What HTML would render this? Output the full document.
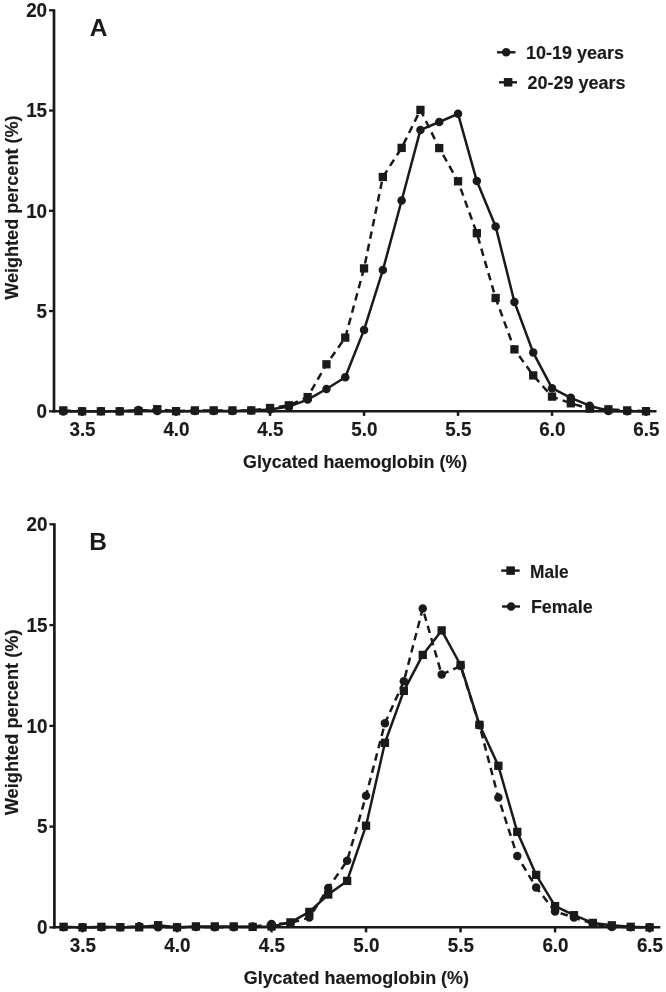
<!DOCTYPE html>
<html lang="en">
<head>
<meta charset="utf-8">
<title>Glycated haemoglobin distribution</title>
<style>
html,body{margin:0;padding:0;background:#fff;}
body{width:666px;height:992px;overflow:hidden;}
svg{display:block;}
svg text{font-family:"Liberation Sans",sans-serif;font-weight:bold;font-size:17.7px;fill:#1a1a1a;stroke:#1a1a1a;stroke-width:0.15px;stroke-linejoin:round;}
</style>
</head>
<body>
<svg width="666" height="992" viewBox="0 0 666 992">
<rect x="0" y="0" width="666" height="992" fill="#ffffff"/>
<line x1="54.0" y1="9.15" x2="54.0" y2="412.45" stroke="#1a1a1a" stroke-width="2.7"/>
<line x1="52.65" y1="411.2" x2="656.5" y2="411.2" stroke="#1a1a1a" stroke-width="2.5"/>
<line x1="49" y1="10.3" x2="54.0" y2="10.3" stroke="#1a1a1a" stroke-width="2.3"/>
<text transform="translate(47.1 17.1) scale(0.962 1)" text-anchor="end" style="font-size:19.6px">20</text>
<line x1="49" y1="110.55" x2="54.0" y2="110.55" stroke="#1a1a1a" stroke-width="2.3"/>
<text transform="translate(47.1 117.35) scale(0.962 1)" text-anchor="end" style="font-size:19.6px">15</text>
<line x1="49" y1="210.8" x2="54.0" y2="210.8" stroke="#1a1a1a" stroke-width="2.3"/>
<text transform="translate(47.1 217.6) scale(0.962 1)" text-anchor="end" style="font-size:19.6px">10</text>
<line x1="49" y1="311.05" x2="54.0" y2="311.05" stroke="#1a1a1a" stroke-width="2.3"/>
<text transform="translate(47.1 317.85) scale(0.962 1)" text-anchor="end" style="font-size:19.6px">5</text>
<line x1="49" y1="411.3" x2="54.0" y2="411.3" stroke="#1a1a1a" stroke-width="2.3"/>
<text transform="translate(47.1 418.1) scale(0.962 1)" text-anchor="end" style="font-size:19.6px">0</text>
<line x1="82.1" y1="411.2" x2="82.1" y2="415.9" stroke="#1a1a1a" stroke-width="2.5"/>
<text transform="translate(82.5 435.8) scale(0.962 1)" text-anchor="middle" style="font-size:19.6px">3.5</text>
<line x1="176.08" y1="411.2" x2="176.08" y2="415.9" stroke="#1a1a1a" stroke-width="2.5"/>
<text transform="translate(176.48 435.8) scale(0.962 1)" text-anchor="middle" style="font-size:19.6px">4.0</text>
<line x1="270.07" y1="411.2" x2="270.07" y2="415.9" stroke="#1a1a1a" stroke-width="2.5"/>
<text transform="translate(270.47 435.8) scale(0.962 1)" text-anchor="middle" style="font-size:19.6px">4.5</text>
<line x1="364.05" y1="411.2" x2="364.05" y2="415.9" stroke="#1a1a1a" stroke-width="2.5"/>
<text transform="translate(364.45 435.8) scale(0.962 1)" text-anchor="middle" style="font-size:19.6px">5.0</text>
<line x1="458.04" y1="411.2" x2="458.04" y2="415.9" stroke="#1a1a1a" stroke-width="2.5"/>
<text transform="translate(458.44 435.8) scale(0.962 1)" text-anchor="middle" style="font-size:19.6px">5.5</text>
<line x1="552.02" y1="411.2" x2="552.02" y2="415.9" stroke="#1a1a1a" stroke-width="2.5"/>
<text transform="translate(552.42 435.8) scale(0.962 1)" text-anchor="middle" style="font-size:19.6px">6.0</text>
<line x1="646.01" y1="411.2" x2="646.01" y2="415.9" stroke="#1a1a1a" stroke-width="2.5"/>
<text transform="translate(646.41 435.8) scale(0.962 1)" text-anchor="middle" style="font-size:19.6px">6.5</text>
<path d="M63.3 411.4 L82.1 411.3 L100.89 411.3 L119.69 411.3 L138.49 410.1 L157.28 411 L176.08 411.2 L194.88 411 L213.68 411 L232.47 411 L251.27 410.6 L270.07 409.6 L288.86 406.6 L307.66 399.6 L326.46 389 L345.25 377.2 L364.05 329.9 L382.85 270.1 L401.65 200.5 L420.44 129.9 L439.24 122 L458.04 113.8 L476.83 181.1 L495.63 226.4 L514.43 302 L533.23 352.6 L552.02 388.2 L570.82 397.8 L589.62 405.7 L608.41 411 L627.21 411.2 L646.01 411.2" fill="none" stroke="#1a1a1a" stroke-width="2.5" stroke-linejoin="round"/>
<circle cx="63.3" cy="411.4" r="4.25" fill="#1a1a1a"/>
<circle cx="82.1" cy="411.3" r="4.25" fill="#1a1a1a"/>
<circle cx="100.89" cy="411.3" r="4.25" fill="#1a1a1a"/>
<circle cx="119.69" cy="411.3" r="4.25" fill="#1a1a1a"/>
<circle cx="138.49" cy="410.1" r="4.25" fill="#1a1a1a"/>
<circle cx="157.28" cy="411" r="4.25" fill="#1a1a1a"/>
<circle cx="176.08" cy="411.2" r="4.25" fill="#1a1a1a"/>
<circle cx="194.88" cy="411" r="4.25" fill="#1a1a1a"/>
<circle cx="213.68" cy="411" r="4.25" fill="#1a1a1a"/>
<circle cx="232.47" cy="411" r="4.25" fill="#1a1a1a"/>
<circle cx="251.27" cy="410.6" r="4.25" fill="#1a1a1a"/>
<circle cx="270.07" cy="409.6" r="4.25" fill="#1a1a1a"/>
<circle cx="288.86" cy="406.6" r="4.25" fill="#1a1a1a"/>
<circle cx="307.66" cy="399.6" r="4.25" fill="#1a1a1a"/>
<circle cx="326.46" cy="389" r="4.25" fill="#1a1a1a"/>
<circle cx="345.25" cy="377.2" r="4.25" fill="#1a1a1a"/>
<circle cx="364.05" cy="329.9" r="4.25" fill="#1a1a1a"/>
<circle cx="382.85" cy="270.1" r="4.25" fill="#1a1a1a"/>
<circle cx="401.65" cy="200.5" r="4.25" fill="#1a1a1a"/>
<circle cx="420.44" cy="129.9" r="4.25" fill="#1a1a1a"/>
<circle cx="439.24" cy="122" r="4.25" fill="#1a1a1a"/>
<circle cx="458.04" cy="113.8" r="4.25" fill="#1a1a1a"/>
<circle cx="476.83" cy="181.1" r="4.25" fill="#1a1a1a"/>
<circle cx="495.63" cy="226.4" r="4.25" fill="#1a1a1a"/>
<circle cx="514.43" cy="302" r="4.25" fill="#1a1a1a"/>
<circle cx="533.23" cy="352.6" r="4.25" fill="#1a1a1a"/>
<circle cx="552.02" cy="388.2" r="4.25" fill="#1a1a1a"/>
<circle cx="570.82" cy="397.8" r="4.25" fill="#1a1a1a"/>
<circle cx="589.62" cy="405.7" r="4.25" fill="#1a1a1a"/>
<circle cx="608.41" cy="411" r="4.25" fill="#1a1a1a"/>
<circle cx="627.21" cy="411.2" r="4.25" fill="#1a1a1a"/>
<circle cx="646.01" cy="411.2" r="4.25" fill="#1a1a1a"/>
<path d="M63.3 410.4 L82.1 411.3 L100.89 411.3 L119.69 411.3 L138.49 411.1 L157.28 409.2 L176.08 411.2 L194.88 410.4 L213.68 410.4 L232.47 410.4 L251.27 410.4 L270.07 408 L288.86 405.3 L307.66 397.1 L326.46 364.3 L345.25 337.6 L364.05 268.4 L382.85 177 L401.65 147.9 L420.44 109.9 L439.24 148.1 L458.04 181.3 L476.83 233.2 L495.63 298 L514.43 349.4 L533.23 375.4 L552.02 396.6 L570.82 403.3 L589.62 408.6 L608.41 409.3 L627.21 410.4 L646.01 411.2" fill="none" stroke="#1a1a1a" stroke-width="2.5" stroke-linejoin="round" stroke-dasharray="7.5 5.2"/>
<rect x="59.15" y="406.25" width="8.3" height="8.3" fill="#1a1a1a"/>
<rect x="77.95" y="407.15" width="8.3" height="8.3" fill="#1a1a1a"/>
<rect x="96.74" y="407.15" width="8.3" height="8.3" fill="#1a1a1a"/>
<rect x="115.54" y="407.15" width="8.3" height="8.3" fill="#1a1a1a"/>
<rect x="134.34" y="406.95" width="8.3" height="8.3" fill="#1a1a1a"/>
<rect x="153.13" y="405.05" width="8.3" height="8.3" fill="#1a1a1a"/>
<rect x="171.93" y="407.05" width="8.3" height="8.3" fill="#1a1a1a"/>
<rect x="190.73" y="406.25" width="8.3" height="8.3" fill="#1a1a1a"/>
<rect x="209.53" y="406.25" width="8.3" height="8.3" fill="#1a1a1a"/>
<rect x="228.32" y="406.25" width="8.3" height="8.3" fill="#1a1a1a"/>
<rect x="247.12" y="406.25" width="8.3" height="8.3" fill="#1a1a1a"/>
<rect x="265.92" y="403.85" width="8.3" height="8.3" fill="#1a1a1a"/>
<rect x="284.71" y="401.15" width="8.3" height="8.3" fill="#1a1a1a"/>
<rect x="303.51" y="392.95" width="8.3" height="8.3" fill="#1a1a1a"/>
<rect x="322.31" y="360.15" width="8.3" height="8.3" fill="#1a1a1a"/>
<rect x="341.11" y="333.45" width="8.3" height="8.3" fill="#1a1a1a"/>
<rect x="359.9" y="264.25" width="8.3" height="8.3" fill="#1a1a1a"/>
<rect x="378.7" y="172.85" width="8.3" height="8.3" fill="#1a1a1a"/>
<rect x="397.5" y="143.75" width="8.3" height="8.3" fill="#1a1a1a"/>
<rect x="416.29" y="105.75" width="8.3" height="8.3" fill="#1a1a1a"/>
<rect x="435.09" y="143.95" width="8.3" height="8.3" fill="#1a1a1a"/>
<rect x="453.89" y="177.15" width="8.3" height="8.3" fill="#1a1a1a"/>
<rect x="472.68" y="229.05" width="8.3" height="8.3" fill="#1a1a1a"/>
<rect x="491.48" y="293.85" width="8.3" height="8.3" fill="#1a1a1a"/>
<rect x="510.28" y="345.25" width="8.3" height="8.3" fill="#1a1a1a"/>
<rect x="529.08" y="371.25" width="8.3" height="8.3" fill="#1a1a1a"/>
<rect x="547.87" y="392.45" width="8.3" height="8.3" fill="#1a1a1a"/>
<rect x="566.67" y="399.15" width="8.3" height="8.3" fill="#1a1a1a"/>
<rect x="585.47" y="404.45" width="8.3" height="8.3" fill="#1a1a1a"/>
<rect x="604.26" y="405.15" width="8.3" height="8.3" fill="#1a1a1a"/>
<rect x="623.06" y="406.25" width="8.3" height="8.3" fill="#1a1a1a"/>
<rect x="641.86" y="407.05" width="8.3" height="8.3" fill="#1a1a1a"/>
<line x1="497" y1="52.3" x2="515.5" y2="52.3" stroke="#1a1a1a" stroke-width="2.4"/>
<circle cx="506.2" cy="52.3" r="4.25" fill="#1a1a1a"/>
<text x="526" y="59" textLength="98" lengthAdjust="spacingAndGlyphs">10-19 years</text>
<line x1="499" y1="82.3" x2="517" y2="82.3" stroke="#1a1a1a" stroke-width="2.4"/>
<rect x="503.85" y="78.05" width="8.5" height="8.5" fill="#1a1a1a"/>
<text x="527.4" y="89.1" textLength="98.2" lengthAdjust="spacingAndGlyphs">20-29 years</text>
<text x="89.8" y="36.3" style="font-size:24.5px;stroke-width:0">A</text>
<text transform="translate(17.7 207.6) rotate(-90)" text-anchor="middle" style="font-size:18px" textLength="184.3" lengthAdjust="spacingAndGlyphs">Weighted percent (%)</text>
<text x="243.0" y="468.1" style="font-size:18px" textLength="224.2" lengthAdjust="spacingAndGlyphs">Glycated haemoglobin (%)</text>
<line x1="54.4" y1="523.15" x2="54.4" y2="928.55" stroke="#1a1a1a" stroke-width="2.7"/>
<line x1="53.05" y1="927.3" x2="660.3" y2="927.3" stroke="#1a1a1a" stroke-width="2.5"/>
<line x1="49.4" y1="524.3" x2="54.4" y2="524.3" stroke="#1a1a1a" stroke-width="2.3"/>
<text transform="translate(47.5 531.1) scale(0.962 1)" text-anchor="end" style="font-size:19.6px">20</text>
<line x1="49.4" y1="625.08" x2="54.4" y2="625.08" stroke="#1a1a1a" stroke-width="2.3"/>
<text transform="translate(47.5 631.88) scale(0.962 1)" text-anchor="end" style="font-size:19.6px">15</text>
<line x1="49.4" y1="725.85" x2="54.4" y2="725.85" stroke="#1a1a1a" stroke-width="2.3"/>
<text transform="translate(47.5 732.65) scale(0.962 1)" text-anchor="end" style="font-size:19.6px">10</text>
<line x1="49.4" y1="826.62" x2="54.4" y2="826.62" stroke="#1a1a1a" stroke-width="2.3"/>
<text transform="translate(47.5 833.42) scale(0.962 1)" text-anchor="end" style="font-size:19.6px">5</text>
<line x1="49.4" y1="927.4" x2="54.4" y2="927.4" stroke="#1a1a1a" stroke-width="2.3"/>
<text transform="translate(47.5 934.2) scale(0.962 1)" text-anchor="end" style="font-size:19.6px">0</text>
<line x1="82.5" y1="927.3" x2="82.5" y2="932.4" stroke="#1a1a1a" stroke-width="2.5"/>
<text transform="translate(82.9 951.9) scale(0.962 1)" text-anchor="middle" style="font-size:19.6px">3.5</text>
<line x1="177.02" y1="927.3" x2="177.02" y2="932.4" stroke="#1a1a1a" stroke-width="2.5"/>
<text transform="translate(177.42 951.9) scale(0.962 1)" text-anchor="middle" style="font-size:19.6px">4.0</text>
<line x1="271.53" y1="927.3" x2="271.53" y2="932.4" stroke="#1a1a1a" stroke-width="2.5"/>
<text transform="translate(271.93 951.9) scale(0.962 1)" text-anchor="middle" style="font-size:19.6px">4.5</text>
<line x1="366.05" y1="927.3" x2="366.05" y2="932.4" stroke="#1a1a1a" stroke-width="2.5"/>
<text transform="translate(366.45 951.9) scale(0.962 1)" text-anchor="middle" style="font-size:19.6px">5.0</text>
<line x1="460.56" y1="927.3" x2="460.56" y2="932.4" stroke="#1a1a1a" stroke-width="2.5"/>
<text transform="translate(460.96 951.9) scale(0.962 1)" text-anchor="middle" style="font-size:19.6px">5.5</text>
<line x1="555.08" y1="927.3" x2="555.08" y2="932.4" stroke="#1a1a1a" stroke-width="2.5"/>
<text transform="translate(555.48 951.9) scale(0.962 1)" text-anchor="middle" style="font-size:19.6px">6.0</text>
<line x1="649.59" y1="927.3" x2="649.59" y2="932.4" stroke="#1a1a1a" stroke-width="2.5"/>
<text transform="translate(649.99 951.9) scale(0.962 1)" text-anchor="middle" style="font-size:19.6px">6.5</text>
<path d="M63.6 926.8 L82.5 927.4 L101.41 926.8 L120.31 927.2 L139.21 927.3 L158.11 925.2 L177.02 927.3 L195.92 926.4 L214.82 926.4 L233.73 926.4 L252.63 926.9 L271.53 926.5 L290.44 922.4 L309.34 911.9 L328.24 894.5 L347.14 880.9 L366.05 825.7 L384.95 742.8 L403.85 690.9 L422.76 654.9 L441.66 630.4 L460.56 665 L479.47 724.8 L498.37 765.8 L517.27 831.9 L536.17 874.9 L555.08 906.1 L573.98 915.2 L592.88 922.9 L611.79 925.3 L630.69 926.8 L649.59 927.4" fill="none" stroke="#1a1a1a" stroke-width="2.5" stroke-linejoin="round"/>
<rect x="59.45" y="922.65" width="8.3" height="8.3" fill="#1a1a1a"/>
<rect x="78.35" y="923.25" width="8.3" height="8.3" fill="#1a1a1a"/>
<rect x="97.26" y="922.65" width="8.3" height="8.3" fill="#1a1a1a"/>
<rect x="116.16" y="923.05" width="8.3" height="8.3" fill="#1a1a1a"/>
<rect x="135.06" y="923.15" width="8.3" height="8.3" fill="#1a1a1a"/>
<rect x="153.96" y="921.05" width="8.3" height="8.3" fill="#1a1a1a"/>
<rect x="172.87" y="923.15" width="8.3" height="8.3" fill="#1a1a1a"/>
<rect x="191.77" y="922.25" width="8.3" height="8.3" fill="#1a1a1a"/>
<rect x="210.67" y="922.25" width="8.3" height="8.3" fill="#1a1a1a"/>
<rect x="229.58" y="922.25" width="8.3" height="8.3" fill="#1a1a1a"/>
<rect x="248.48" y="922.75" width="8.3" height="8.3" fill="#1a1a1a"/>
<rect x="267.38" y="922.35" width="8.3" height="8.3" fill="#1a1a1a"/>
<rect x="286.29" y="918.25" width="8.3" height="8.3" fill="#1a1a1a"/>
<rect x="305.19" y="907.75" width="8.3" height="8.3" fill="#1a1a1a"/>
<rect x="324.09" y="890.35" width="8.3" height="8.3" fill="#1a1a1a"/>
<rect x="343" y="876.75" width="8.3" height="8.3" fill="#1a1a1a"/>
<rect x="361.9" y="821.55" width="8.3" height="8.3" fill="#1a1a1a"/>
<rect x="380.8" y="738.65" width="8.3" height="8.3" fill="#1a1a1a"/>
<rect x="399.7" y="686.75" width="8.3" height="8.3" fill="#1a1a1a"/>
<rect x="418.61" y="650.75" width="8.3" height="8.3" fill="#1a1a1a"/>
<rect x="437.51" y="626.25" width="8.3" height="8.3" fill="#1a1a1a"/>
<rect x="456.41" y="660.85" width="8.3" height="8.3" fill="#1a1a1a"/>
<rect x="475.32" y="720.65" width="8.3" height="8.3" fill="#1a1a1a"/>
<rect x="494.22" y="761.65" width="8.3" height="8.3" fill="#1a1a1a"/>
<rect x="513.12" y="827.75" width="8.3" height="8.3" fill="#1a1a1a"/>
<rect x="532.02" y="870.75" width="8.3" height="8.3" fill="#1a1a1a"/>
<rect x="550.93" y="901.95" width="8.3" height="8.3" fill="#1a1a1a"/>
<rect x="569.83" y="911.05" width="8.3" height="8.3" fill="#1a1a1a"/>
<rect x="588.73" y="918.75" width="8.3" height="8.3" fill="#1a1a1a"/>
<rect x="607.64" y="921.15" width="8.3" height="8.3" fill="#1a1a1a"/>
<rect x="626.54" y="922.65" width="8.3" height="8.3" fill="#1a1a1a"/>
<rect x="645.44" y="923.25" width="8.3" height="8.3" fill="#1a1a1a"/>
<path d="M63.6 927.2 L82.5 927.3 L101.41 927.3 L120.31 927.3 L139.21 926.2 L158.11 927.2 L177.02 927.3 L195.92 927 L214.82 927.2 L233.73 927.2 L252.63 926.6 L271.53 924.1 L290.44 923 L309.34 917.6 L328.24 888 L347.14 860.8 L366.05 795.7 L384.95 723.3 L403.85 681.3 L422.76 608.5 L441.66 674.6 L460.56 666 L479.47 725.3 L498.37 797.5 L517.27 856.1 L536.17 887.4 L555.08 911.4 L573.98 917.6 L592.88 923.6 L611.79 927 L630.69 927.2 L649.59 927.3" fill="none" stroke="#1a1a1a" stroke-width="2.5" stroke-linejoin="round" stroke-dasharray="7.5 5.2"/>
<circle cx="63.6" cy="927.2" r="4.25" fill="#1a1a1a"/>
<circle cx="82.5" cy="927.3" r="4.25" fill="#1a1a1a"/>
<circle cx="101.41" cy="927.3" r="4.25" fill="#1a1a1a"/>
<circle cx="120.31" cy="927.3" r="4.25" fill="#1a1a1a"/>
<circle cx="139.21" cy="926.2" r="4.25" fill="#1a1a1a"/>
<circle cx="158.11" cy="927.2" r="4.25" fill="#1a1a1a"/>
<circle cx="177.02" cy="927.3" r="4.25" fill="#1a1a1a"/>
<circle cx="195.92" cy="927" r="4.25" fill="#1a1a1a"/>
<circle cx="214.82" cy="927.2" r="4.25" fill="#1a1a1a"/>
<circle cx="233.73" cy="927.2" r="4.25" fill="#1a1a1a"/>
<circle cx="252.63" cy="926.6" r="4.25" fill="#1a1a1a"/>
<circle cx="271.53" cy="924.1" r="4.25" fill="#1a1a1a"/>
<circle cx="290.44" cy="923" r="4.25" fill="#1a1a1a"/>
<circle cx="309.34" cy="917.6" r="4.25" fill="#1a1a1a"/>
<circle cx="328.24" cy="888" r="4.25" fill="#1a1a1a"/>
<circle cx="347.14" cy="860.8" r="4.25" fill="#1a1a1a"/>
<circle cx="366.05" cy="795.7" r="4.25" fill="#1a1a1a"/>
<circle cx="384.95" cy="723.3" r="4.25" fill="#1a1a1a"/>
<circle cx="403.85" cy="681.3" r="4.25" fill="#1a1a1a"/>
<circle cx="422.76" cy="608.5" r="4.25" fill="#1a1a1a"/>
<circle cx="441.66" cy="674.6" r="4.25" fill="#1a1a1a"/>
<circle cx="460.56" cy="666" r="4.25" fill="#1a1a1a"/>
<circle cx="479.47" cy="725.3" r="4.25" fill="#1a1a1a"/>
<circle cx="498.37" cy="797.5" r="4.25" fill="#1a1a1a"/>
<circle cx="517.27" cy="856.1" r="4.25" fill="#1a1a1a"/>
<circle cx="536.17" cy="887.4" r="4.25" fill="#1a1a1a"/>
<circle cx="555.08" cy="911.4" r="4.25" fill="#1a1a1a"/>
<circle cx="573.98" cy="917.6" r="4.25" fill="#1a1a1a"/>
<circle cx="592.88" cy="923.6" r="4.25" fill="#1a1a1a"/>
<circle cx="611.79" cy="927" r="4.25" fill="#1a1a1a"/>
<circle cx="630.69" cy="927.2" r="4.25" fill="#1a1a1a"/>
<circle cx="649.59" cy="927.3" r="4.25" fill="#1a1a1a"/>
<line x1="501.2" y1="570.6" x2="519.7" y2="570.6" stroke="#1a1a1a" stroke-width="2.4"/>
<rect x="506.35" y="566.35" width="8.5" height="8.5" fill="#1a1a1a"/>
<text x="530.1" y="577.65" textLength="38.5" lengthAdjust="spacingAndGlyphs">Male</text>
<line x1="502" y1="606.5" x2="520" y2="606.5" stroke="#1a1a1a" stroke-width="2.4"/>
<circle cx="511.1" cy="606.5" r="4.25" fill="#1a1a1a"/>
<text x="530.9" y="613.45" textLength="61.8" lengthAdjust="spacingAndGlyphs">Female</text>
<text x="89.2" y="550.1" style="font-size:24.5px;stroke-width:0">B</text>
<text transform="translate(17.8 722.35) rotate(-90)" text-anchor="middle" style="font-size:18px" textLength="185.8" lengthAdjust="spacingAndGlyphs">Weighted percent (%)</text>
<text x="243.7" y="984.2" style="font-size:18px" textLength="225.3" lengthAdjust="spacingAndGlyphs">Glycated haemoglobin (%)</text>
</svg>
</body>
</html>
